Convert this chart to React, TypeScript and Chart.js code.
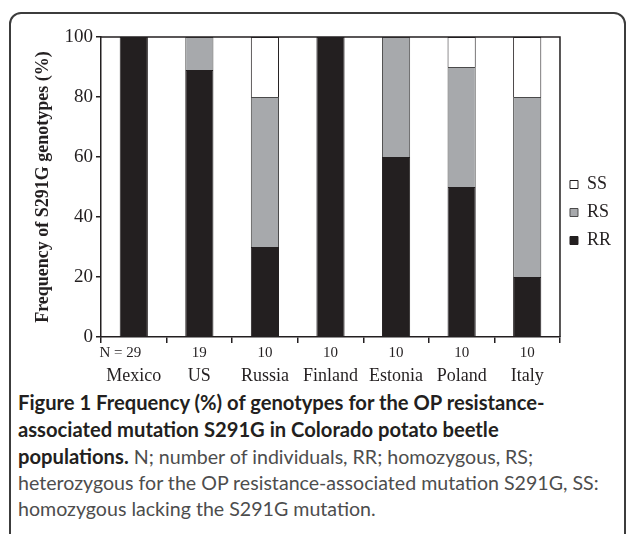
import React, { useEffect, useRef } from "react";
import { Chart, registerables } from "chart.js";

Chart.register(...registerables);

const categories = ["Mexico", "US", "Russia", "Finland", "Estonia", "Poland", "Italy"];
const nValues = [29, 19, 10, 10, 10, 10, 10];
const rrValues = [100, 89, 30, 100, 60, 50, 20];
const rsValues = [0, 11, 50, 0, 40, 40, 60];
const ssValues = [0, 0, 20, 0, 0, 10, 20];
const yTitle = "Frequency of S291G genotypes (%)";

const INK = "#231f20";
const SERIF = "'Liberation Serif', 'Times New Roman', serif";

const nLabelPlugin = {
  id: "nLabels",
  afterDraw(chart: any) {
    const xs = chart.scales.x;
    const ctx = chart.ctx;
    ctx.save();
    ctx.font = `15px ${SERIF}`;
    ctx.fillStyle = INK;
    ctx.textBaseline = "middle";
    const y = xs.top + 16;
    nValues.forEach((n, i) => {
      const px = xs.getPixelForValue(i);
      const s = String(n);
      ctx.textAlign = "center";
      ctx.fillText(s, px, y);
      if (i === 0) {
        const w = ctx.measureText(s).width;
        ctx.textAlign = "right";
        ctx.fillText("N = ", px - w / 2, y);
      }
    });
    ctx.restore();
  },
};

const framePlugin = {
  id: "frame",
  afterDatasetsDraw(chart: any) {
    const { left, top, right, bottom } = chart.chartArea;
    const ctx = chart.ctx;
    ctx.save();
    ctx.strokeStyle = INK;
    ctx.lineWidth = 1.5;
    ctx.beginPath();
    ctx.moveTo(left, top);
    ctx.lineTo(right, top);
    ctx.lineTo(right, bottom);
    ctx.stroke();
    ctx.restore();
  },
};

function GenotypeChart() {
  const ref = useRef<HTMLCanvasElement | null>(null);
  useEffect(() => {
    if (!ref.current) return;
    const chart = new Chart(ref.current, {
      type: "bar",
      data: {
        labels: categories,
        datasets: [
          { label: "RR", data: rrValues, backgroundColor: INK, borderColor: INK, borderWidth: 1 },
          { label: "RS", data: rsValues, backgroundColor: "#a7a9ac", borderColor: "#4a4a4a", borderWidth: 1 },
          { label: "SS", data: ssValues, backgroundColor: "#ffffff", borderColor: INK, borderWidth: 1 },
        ],
      },
      options: {
        animation: false,
        responsive: false,
        devicePixelRatio: 1,
        datasets: { bar: { barPercentage: 0.43, categoryPercentage: 1 } },
        layout: { padding: { top: 37, right: 6, left: 0, bottom: 0 } },
        plugins: {
          tooltip: { enabled: false },
          legend: {
            position: "right",
            reverse: true,
            labels: {
              boxWidth: 8,
              boxHeight: 8,
              padding: 10,
              color: INK,
              font: { family: SERIF, size: 18 },
            },
          },
        },
        scales: {
          x: {
            stacked: true,
            grid: { offset: true, drawOnChartArea: false, tickLength: 6, color: INK, lineWidth: 1.5 },
            border: { color: INK, width: 1.5 },
            ticks: { color: INK, font: { family: SERIF, size: 18 }, padding: 22, maxRotation: 0 },
            afterFit: (s: any) => {
              s.height = 51;
            },
          },
          y: {
            stacked: true,
            min: 0,
            max: 100,
            grid: { drawOnChartArea: false, tickLength: 5, color: INK, lineWidth: 1.5 },
            border: { color: INK, width: 1.5 },
            ticks: { stepSize: 20, color: INK, font: { family: SERIF, size: 19 }, padding: 3 },
            title: {
              display: true,
              text: yTitle,
              color: INK,
              font: { family: SERIF, size: 18, weight: "bold" },
              padding: { top: 33, bottom: 0 },
            },
            afterFit: (s: any) => {
              s.width = 101;
            },
          },
        },
      },
      plugins: [nLabelPlugin, framePlugin],
    });
    return () => chart.destroy();
  }, []);
  return (
    <canvas
      ref={ref}
      width={627}
      height={388}
      style={{ position: "absolute", left: 0, top: 0, width: 627, height: 388 }}
    />
  );
}

export default function App() {
  const bold = { fontWeight: 700, color: INK, fontSize: 20.2 };
  return (
    <div
      style={{
        position: "absolute",
        left: 0,
        top: 0,
        width: 627,
        height: 534,
        overflow: "hidden",
        background: "#ffffff",
      }}
    >
      <div
        style={{
          position: "absolute",
          left: 9,
          top: 12,
          width: 613,
          height: 600,
          border: "2px solid #3c3c3c",
          borderRadius: 12,
        }}
      />
      <GenotypeChart />
      <div
        style={{
          position: "absolute",
          left: 18,
          top: 389,
          width: 605,
          fontFamily: "Lato, 'Open Sans', sans-serif",
          fontSize: 19.6,
          lineHeight: "26px",
          color: "#4d4d4d",
          whiteSpace: "nowrap",
        }}
      >
        <span style={bold}>Figure 1 Frequency (%) of genotypes for the OP resistance-</span>
        <br />
        <span style={bold}>associated mutation S291G in Colorado potato beetle</span>
        <br />
        <span style={bold}>populations.</span> N; number of individuals, RR; homozygous, RS;
        <br />
        heterozygous for the OP resistance-associated mutation S291G, SS:
        <br />
        homozygous lacking the S291G mutation.
      </div>
    </div>
  );
}
